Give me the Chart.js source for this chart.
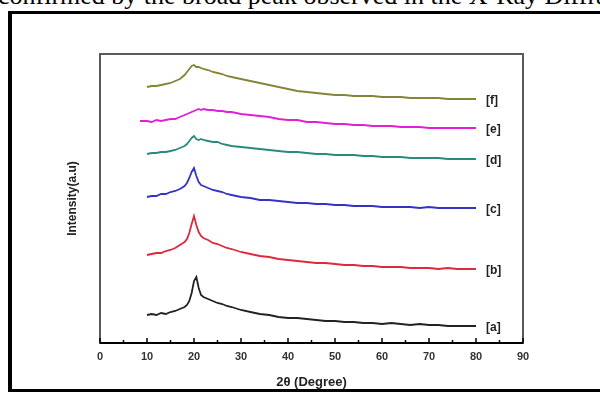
<!DOCTYPE html>
<html>
<head>
<meta charset="utf-8">
<script src="https://cdn.jsdelivr.net/npm/chart.js@4.4.0/dist/chart.umd.min.js"></script>
<style>
  html, body { margin: 0; padding: 0; background: #fff; }
  body { width: 600px; height: 399px; position: relative; overflow: hidden; }
  .caption {
    position: absolute; left: -2px; top: -17px;
    font: 26px/26px "Liberation Serif", "Times New Roman", serif;
    color: #000; white-space: nowrap;
  }
  .frame {
    position: absolute; left: 8px; top: 11px; width: 640px; height: 375px;
    border: 3px solid #000; border-left-width: 4px;
  }
  #xrdChart { position: absolute; left: 0; top: 0; }
</style>
</head>
<body>
<div class="caption">confirmed by the broad peak observed in the X-Ray Diffraction</div>
<div class="frame"></div>
<canvas id="xrdChart" width="600" height="399"></canvas>
<script>
// 2θ positions (degrees)
const angles = [8.5, 10, 11, 12, 13, 14, 15, 16, 17, 18, 18.5, 19, 19.5, 20, 20.5, 21, 21.5, 22,
  23, 24, 25, 26, 27, 28, 30, 32, 34, 36, 38, 40, 42, 44, 46, 48, 50, 52, 54, 56, 58, 60,
  62, 64, 66, 68, 70, 72, 74, 76, 78, 80];

// Intensity (a.u.), stacked with offsets as in the figure
const seriesA = [null, 28, 29, 28, 30, 29, 31, 32, 34, 36, 38, 42, 50, 62, 66, 55, 48, 46,
  44, 42, 40, 39, 37, 36, 33, 31, 29, 28, 26, 25, 25, 24, 23, 22, 22, 21, 21, 20, 20, 19,
  20, 19, 18, 19, 18, 18, 17, 17, 17, 17];
const seriesB = [null, 88, 89, 90, 90, 92, 93, 95, 98, 101, 104, 110, 119, 127, 118, 111, 107, 105,
  103, 100, 99, 97, 95, 94, 91, 89, 87, 86, 84, 83, 82, 81, 80, 80, 79, 78, 78, 77, 77, 76,
  76, 76, 75, 75, 75, 74, 75, 74, 74, 74];
const seriesC = [null, 146, 147, 147, 149, 149, 151, 152, 154, 157, 160, 165, 171, 175, 167, 161, 158, 157,
  155, 153, 152, 151, 149, 148, 146, 145, 143, 143, 142, 141, 140, 140, 139, 139, 138, 138, 137, 137, 137, 136,
  136, 136, 136, 135, 136, 135, 135, 135, 135, 135];
const seriesD = [null, 189, 190, 190, 191, 191, 192, 193, 195, 197, 199, 202, 205, 207, 204, 203, 204, 203,
  202, 201, 201, 199, 198, 197, 196, 195, 194, 193, 192, 191, 191, 190, 189, 189, 188, 188, 188, 187, 187, 186,
  186, 186, 185, 185, 185, 185, 184, 184, 184, 184];
const seriesE = [222, 222, 221, 223, 222, 223, 224, 224, 226, 228, 229, 230, 231, 232, 233, 234, 233, 234,
  233, 233, 232, 232, 231, 231, 229, 228, 227, 226, 224, 223, 223, 221, 221, 220, 219, 219, 218, 218, 217, 217,
  217, 216, 216, 216, 215, 215, 215, 215, 215, 215];
const seriesF = [null, 256, 257, 257, 258, 259, 260, 262, 264, 268, 271, 274, 277, 278, 276, 276, 275, 274,
  273, 271, 270, 269, 267, 266, 264, 262, 260, 258, 256, 254, 252, 251, 250, 249, 248, 248, 247, 247, 247, 246,
  246, 246, 245, 245, 245, 245, 244, 244, 244, 244];

const sampleLabels = ['[a]', '[b]', '[c]', '[d]', '[e]', '[f]'];
const sampleColors = ['#222222', '#e0283c', '#3434c4', '#2a8a7c', '#e21fd6', '#85853a'];
const allSeries = [seriesA, seriesB, seriesC, seriesD, seriesE, seriesF];

const xTicks = [0, 10, 20, 30, 40, 50, 60, 70, 80, 90];

const datasets = allSeries.map((vals, i) => ({
  label: sampleLabels[i],
  data: angles.map((a, j) => ({ x: a, y: vals[j] })),
  borderColor: sampleColors[i],
  borderWidth: 1.8,
  pointRadius: 0,
  tension: 0,
  fill: false
}));

// frame, inward ticks and end labels
const decorations = {
  id: 'decorations',
  afterDatasetsDraw(chart) {
    const { ctx, chartArea: ca, scales } = chart;
    const xs = scales.x;
    ctx.save();
    ctx.strokeStyle = '#5a5a5a';
    ctx.lineWidth = 2;
    ctx.strokeRect(ca.left, ca.top, ca.right - ca.left, ca.bottom - ca.top);
    ctx.strokeStyle = '#000';
    ctx.beginPath();
    ctx.moveTo(ca.left, ca.bottom);
    ctx.lineTo(ca.right, ca.bottom);
    ctx.stroke();
    ctx.lineWidth = 1.5;
    for (let v = 0; v <= 90; v += 5) {
      const px = xs.getPixelForValue(v);
      const len = v % 10 === 0 ? 5 : 3;
      ctx.beginPath();
      ctx.moveTo(px, ca.bottom);
      ctx.lineTo(px, ca.bottom - len);
      ctx.stroke();
    }
    ctx.font = 'bold 12px "Liberation Sans", Arial, sans-serif';
    ctx.fillStyle = '#222';
    ctx.textBaseline = 'middle';
    chart.data.datasets.forEach((ds, i) => {
      const last = ds.data[ds.data.length - 1];
      const px = xs.getPixelForValue(last.x) + 10;
      const py = scales.y.getPixelForValue(last.y) + 2;
      ctx.fillText(ds.label, px, py);
    });
    ctx.restore();
  }
};

const ctx = document.getElementById('xrdChart').getContext('2d');
new Chart(ctx, {
  type: 'line',
  data: { datasets: datasets },
  options: {
    responsive: false,
    animation: false,
    layout: { padding: { left: 60, right: 77, top: 54, bottom: 8 } },
    plugins: { legend: { display: false }, tooltip: { enabled: false } },
    scales: {
      x: {
        type: 'linear',
        min: 0,
        max: 90,
        afterBuildTicks: s => { s.ticks = xTicks.map(v => ({ value: v })); },
        afterFit: s => { s.height = 48; },
        grid: { display: false, drawTicks: false },
        border: { display: false },
        ticks: {
          padding: 7,
          color: '#333',
          font: { family: '"Liberation Sans", Arial, sans-serif', size: 11, weight: 'bold' },
          maxRotation: 0
        },
        title: {
          display: true,
          text: '2θ (Degree)',
          color: '#222',
          padding: { top: 0, bottom: 1 },
          font: { family: '"Liberation Sans", Arial, sans-serif', size: 13, weight: 'bold' }
        }
      },
      y: {
        min: 0,
        max: 289,
        afterFit: s => { s.width = 40; },
        grid: { display: false, drawTicks: false },
        border: { display: false },
        ticks: { display: false },
        title: {
          display: true,
          text: 'Intensity(a.u)',
          color: '#222',
          padding: { top: 5, bottom: 0 },
          font: { family: '"Liberation Sans", Arial, sans-serif', size: 12, weight: 'bold' }
        }
      }
    }
  },
  plugins: [decorations]
});
</script>
</body>
</html>
